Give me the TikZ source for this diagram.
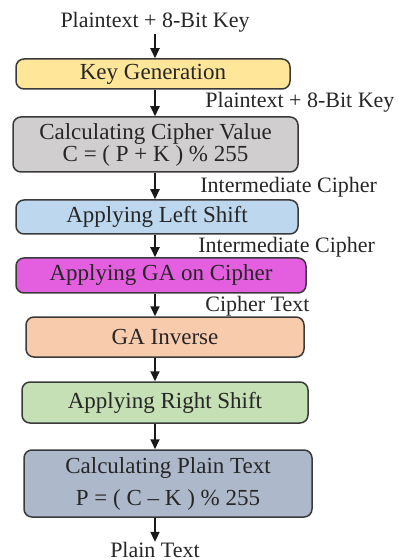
\documentclass[tikz,border=0pt]{standalone}
\usepackage{fontspec}
\setmainfont{Liberation Serif}
\usetikzlibrary{arrows.meta}

\definecolor{boxline}{HTML}{3A3A3A}
\definecolor{keyyellow}{HTML}{FFE699}
\definecolor{calcgray}{HTML}{D0CECE}
\definecolor{shiftblue}{HTML}{BDD7EE}
\definecolor{gamagenta}{HTML}{E35FE0}
\definecolor{invpeach}{HTML}{F8CBAD}
\definecolor{shiftgreen}{HTML}{C5E0B4}
\definecolor{plainblue}{HTML}{ADB9CA}

\begin{document}
\begin{tikzpicture}[x=0.5pt,y=-0.5pt,
  stage/.style={draw=boxline,line width=0.75pt,rounded corners=4pt,align=center,
    text=black!85,font=\fontsize{11.5}{13}\selectfont,inner sep=0pt},
  flow/.style={-{Triangle[width=4.5pt,length=5pt]},line width=0.9pt,black!90},
  lbl/.style={font=\fontsize{11}{13}\selectfont,text=black!85,inner sep=0pt}]
\useasboundingbox (0,0) rectangle (398,560);

% stages
\node[lbl] (input) at (155,22) {Plaintext + 8-Bit Key};
\node[stage,fill=keyyellow,minimum width=137pt,minimum height=15pt] (keygen) at (153,74) {Key Generation};
\node[stage,fill=calcgray,minimum width=142.5pt,minimum height=27.5pt] (cipher) at (155.5,144.5)
  {Calculating Cipher Value\\[-2pt] C = ( P + K ) \% 255};
\node[stage,fill=shiftblue,minimum width=141pt,minimum height=17pt] (lshift) at (157,217) {Applying Left Shift};
\node[stage,fill=gamagenta,minimum width=145pt,minimum height=17.5pt] (ga) at (161,275.5) {Applying GA on Cipher};
\node[stage,fill=invpeach,minimum width=139pt,minimum height=20pt] (gainv) at (165,337) {GA Inverse};
\node[stage,fill=shiftgreen,minimum width=143pt,minimum height=20.5pt] (rshift) at (165,402.5) {Applying Right Shift};
\node[stage,fill=plainblue,minimum width=144pt,minimum height=33.5pt] (plain) at (168,483.5)
  {Calculating Plain Text\\[3pt] P = ( C -- K ) \% 255};
\node[lbl] (output) at (155,550) {Plain Text};

% side labels
\node[lbl,anchor=west] (lblkey) at (205,102) {Plaintext + 8-Bit Key};
\node[lbl,anchor=west] (lblint1) at (200,187) {Intermediate Cipher};
\node[lbl,anchor=west] (lblint2) at (198,247) {Intermediate Cipher};
\node[lbl,anchor=west] (lblct) at (205,306) {Cipher Text};

% arrows
\draw[flow] (input.south) ++(0,2) -- (input |- keygen.north);
\draw[flow] (keygen.south -| input) -- (cipher.north -| input);
\draw[flow] (cipher.south -| input) -- (lshift.north -| input);
\draw[flow] (lshift.south -| input) -- (ga.north -| input);
\draw[flow] (ga.south -| input) -- (gainv.north -| input);
\draw[flow] (gainv.south -| input) -- (rshift.north -| input);
\draw[flow] (rshift.south -| input) -- (plain.north -| input);
\draw[flow] (plain.south -| input) -- (output.north);
\end{tikzpicture}
\end{document}
